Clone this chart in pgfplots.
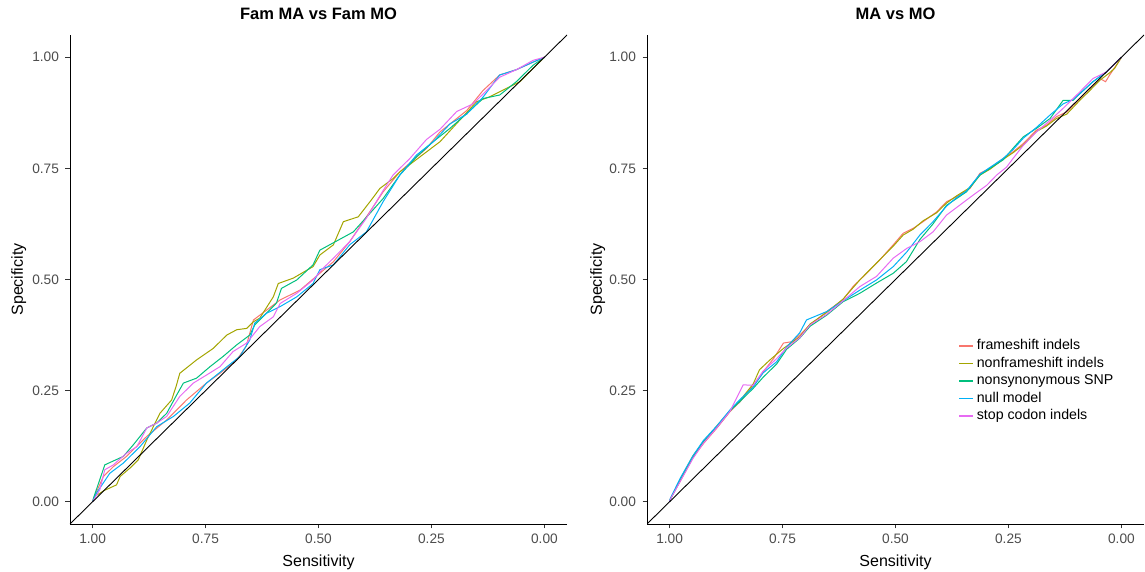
\documentclass[border=0pt]{standalone}
\usepackage{pgfplots}
\pgfplotsset{compat=1.18}
\usepackage{fontspec}
\setmainfont{Liberation Sans}
\definecolor{cFS}{HTML}{F8766D}
\definecolor{cNF}{HTML}{A3A500}
\definecolor{cNS}{HTML}{00BF7D}
\definecolor{cNM}{HTML}{00B0F6}
\definecolor{cSC}{HTML}{E76BF3}
\definecolor{tickgrey}{HTML}{4D4D4D}
\pgfplotsset{
  rocaxis/.style={
    scale only axis, width=497pt, height=489pt,
    x dir=reverse, xmin=-0.05, xmax=1.05, ymin=-0.05, ymax=1.05,
    axis x line*=bottom, axis y line*=left,
    axis line style={line width=0.9pt, black},
    tick align=outside, major tick length=4.5pt,
    tick style={line width=0.9pt, black!80},
    xtick={0,0.25,0.5,0.75,1}, xticklabels={0.00,0.25,0.50,0.75,1.00},
    ytick={0,0.25,0.5,0.75,1}, yticklabels={0.00,0.25,0.50,0.75,1.00},
    ticklabel style={font=\fontsize{13.7}{15}\selectfont, text=tickgrey},
    xticklabel style={yshift=-2pt},
    yticklabel style={xshift=-3pt},
    xlabel={Sensitivity}, ylabel={Specificity},
    label style={font=\fontsize{16}{18}\selectfont},
    xlabel style={at={(axis description cs:0.5,-0.0859)}, anchor=base},
    ylabel style={at={(axis description cs:-0.0946,0.5)}, anchor=base, rotate=0},
    title style={at={(axis description cs:0.5,1.0204)}, anchor=base, font=\bfseries\fontsize{16.5}{18}\selectfont},
    every axis plot/.append style={line width=1pt},
  }
}
\begin{document}
\begin{tikzpicture}
\useasboundingbox (0pt,0pt) rectangle (1145pt,572pt);
% left panel
\begin{axis}[rocaxis, at={(70pt,48pt)}, anchor=south west, title={Fam MA vs Fam MO}]
\addplot[cFS] coordinates {(1,0) (0.997,0.010) (0.976,0.057) (0.954,0.079) (0.925,0.102) (0.880,0.147) (0.836,0.184) (0.792,0.229) (0.748,0.267) (0.718,0.289) (0.681,0.319) (0.660,0.350) (0.644,0.409) (0.615,0.431) (0.585,0.454) (0.541,0.476) (0.497,0.514) (0.467,0.540) (0.431,0.585) (0.357,0.697) (0.320,0.742) (0.261,0.795) (0.231,0.832) (0.172,0.880) (0.136,0.925) (0.099,0.960) (0.062,0.972) (0.025,0.989) (0,1)};
\addplot[cNF] coordinates {(1,0) (0.995,0.012) (0.975,0.025) (0.947,0.038) (0.939,0.057) (0.917,0.076) (0.899,0.094) (0.880,0.139) (0.851,0.199) (0.825,0.229) (0.815,0.260) (0.807,0.289) (0.770,0.319) (0.733,0.345) (0.703,0.375) (0.681,0.387) (0.659,0.390) (0.644,0.405) (0.630,0.413) (0.600,0.461) (0.589,0.491) (0.556,0.503) (0.512,0.529) (0.497,0.555) (0.467,0.578) (0.445,0.630) (0.412,0.641) (0.383,0.679) (0.364,0.705) (0.335,0.727) (0.320,0.742) (0.300,0.757) (0.261,0.787) (0.231,0.810) (0.194,0.851) (0.150,0.900) (0.121,0.911) (0.084,0.930) (0.054,0.945) (0.025,0.975) (0,1)};
\addplot[cNS] coordinates {(1,0) (0.998,0.008) (0.973,0.083) (0.932,0.102) (0.910,0.128) (0.880,0.166) (0.858,0.177) (0.836,0.199) (0.814,0.240) (0.799,0.267) (0.770,0.278) (0.740,0.304) (0.711,0.327) (0.681,0.353) (0.652,0.375) (0.641,0.398) (0.626,0.413) (0.593,0.447) (0.582,0.480) (0.548,0.499) (0.512,0.533) (0.497,0.566) (0.423,0.607) (0.357,0.682) (0.320,0.735) (0.283,0.776) (0.246,0.810) (0.209,0.840) (0.172,0.873) (0.136,0.907) (0.099,0.915) (0.062,0.945) (0.025,0.982) (0,1)};
\addplot[cNM] coordinates {(1,0) (0.991,0.020) (0.962,0.064) (0.932,0.087) (0.895,0.124) (0.858,0.169) (0.821,0.192) (0.785,0.222) (0.748,0.267) (0.711,0.297) (0.674,0.327) (0.652,0.364) (0.641,0.402) (0.615,0.424) (0.585,0.439) (0.548,0.461) (0.512,0.491) (0.497,0.522) (0.467,0.533) (0.431,0.578) (0.394,0.607) (0.357,0.675) (0.320,0.735) (0.283,0.780) (0.246,0.810) (0.209,0.850) (0.172,0.872) (0.136,0.910) (0.099,0.960) (0.062,0.972) (0.025,0.989) (0,1)};
\addplot[cSC] coordinates {(1,0) (0.984,0.027) (0.973,0.072) (0.954,0.083) (0.925,0.109) (0.902,0.124) (0.880,0.166) (0.858,0.177) (0.836,0.192) (0.807,0.237) (0.777,0.267) (0.748,0.285) (0.718,0.304) (0.689,0.338) (0.659,0.357) (0.630,0.394) (0.600,0.416) (0.585,0.446) (0.548,0.469) (0.512,0.499) (0.490,0.525) (0.467,0.548) (0.431,0.585) (0.394,0.638) (0.357,0.700) (0.335,0.735) (0.298,0.772) (0.261,0.815) (0.231,0.838) (0.194,0.878) (0.158,0.895) (0.128,0.925) (0.099,0.955) (0.062,0.972) (0.025,0.993) (0,1)};
\addplot[black, line width=0.9pt, forget plot] coordinates {(1.05,-0.05) (-0.05,1.05)};
\end{axis}
% right panel
\begin{axis}[rocaxis, at={(647pt,48pt)}, anchor=south west, title={MA vs MO},
  ylabel style={at={(axis description cs:-0.0906,0.5)}},
  legend cell align=left,
  legend image code/.code={\draw[#1, line width=1.5pt] (0pt,0.5pt) -- (14pt,0.5pt);},
  legend style={draw=none, fill=none, inner sep=0pt, at={(axis description cs:0.626,0.378)}, anchor=north west,
    font=\fontsize{14.2}{16}\selectfont, row sep=3.5pt,
    nodes={inner sep=0pt, text height=10.5pt, text depth=3.5pt},
    /tikz/every odd column/.append style={column sep=3pt}}]
\addplot[cFS] coordinates {(1,0) (0.997,0.010) (0.977,0.045) (0.948,0.100) (0.925,0.131) (0.896,0.165) (0.866,0.203) (0.844,0.225) (0.815,0.262) (0.793,0.292) (0.770,0.322) (0.748,0.357) (0.730,0.360) (0.712,0.375) (0.689,0.398) (0.652,0.428) (0.616,0.455) (0.594,0.484) (0.564,0.514) (0.534,0.545) (0.505,0.578) (0.483,0.604) (0.461,0.615) (0.439,0.630) (0.409,0.652) (0.387,0.675) (0.365,0.686) (0.335,0.705) (0.313,0.739) (0.291,0.750) (0.262,0.772) (0.240,0.787) (0.217,0.806) (0.188,0.836) (0.166,0.847) (0.144,0.866) (0.121,0.877) (0.092,0.907) (0.070,0.930) (0.048,0.952) (0.035,0.945) (0.026,0.960) (0.004,0.993) (0,1)};
\addplot[cNF] coordinates {(1,0) (0.998,0.006) (0.977,0.049) (0.948,0.104) (0.925,0.134) (0.896,0.170) (0.866,0.205) (0.844,0.228) (0.815,0.265) (0.801,0.297) (0.778,0.319) (0.748,0.345) (0.712,0.371) (0.689,0.400) (0.652,0.426) (0.616,0.456) (0.579,0.499) (0.542,0.537) (0.505,0.575) (0.483,0.600) (0.461,0.613) (0.439,0.632) (0.409,0.650) (0.387,0.672) (0.365,0.688) (0.335,0.707) (0.313,0.735) (0.291,0.748) (0.262,0.770) (0.240,0.785) (0.217,0.803) (0.188,0.833) (0.166,0.845) (0.144,0.862) (0.121,0.872) (0.092,0.903) (0.070,0.925) (0.048,0.948) (0.026,0.965) (0.015,0.975) (0,1)};
\addplot[cNS] coordinates {(1,0) (0.999,0.004) (0.977,0.047) (0.948,0.100) (0.925,0.136) (0.896,0.167) (0.866,0.205) (0.844,0.226) (0.815,0.255) (0.793,0.280) (0.763,0.310) (0.741,0.343) (0.712,0.368) (0.689,0.395) (0.652,0.420) (0.616,0.450) (0.579,0.469) (0.542,0.492) (0.505,0.514) (0.476,0.540) (0.446,0.590) (0.417,0.625) (0.387,0.667) (0.365,0.682) (0.343,0.697) (0.313,0.735) (0.291,0.750) (0.262,0.769) (0.240,0.795) (0.217,0.821) (0.188,0.840) (0.158,0.862) (0.129,0.903) (0.107,0.903) (0.092,0.918) (0.063,0.945) (0.033,0.967) (0,1)};
\addplot[cNM] coordinates {(1,0) (0.999,0.006) (0.977,0.052) (0.948,0.104) (0.925,0.138) (0.896,0.170) (0.866,0.207) (0.844,0.230) (0.815,0.258) (0.793,0.290) (0.763,0.315) (0.741,0.348) (0.712,0.380) (0.697,0.409) (0.652,0.428) (0.616,0.452) (0.579,0.476) (0.542,0.499) (0.505,0.529) (0.475,0.562) (0.446,0.600) (0.417,0.630) (0.387,0.665) (0.365,0.684) (0.343,0.699) (0.313,0.737) (0.291,0.752) (0.262,0.772) (0.240,0.792) (0.217,0.818) (0.188,0.842) (0.158,0.870) (0.129,0.895) (0.107,0.905) (0.092,0.918) (0.063,0.945) (0.033,0.967) (0,1)};
\addplot[cSC] coordinates {(1,0) (0.999,0.004) (0.977,0.045) (0.948,0.098) (0.925,0.132) (0.896,0.166) (0.866,0.204) (0.837,0.263) (0.815,0.262) (0.793,0.294) (0.763,0.322) (0.741,0.346) (0.712,0.369) (0.689,0.398) (0.652,0.422) (0.616,0.452) (0.579,0.484) (0.542,0.507) (0.505,0.548) (0.475,0.570) (0.446,0.585) (0.417,0.607) (0.387,0.645) (0.358,0.667) (0.328,0.690) (0.298,0.712) (0.276,0.735) (0.254,0.753) (0.240,0.772) (0.217,0.802) (0.188,0.832) (0.158,0.858) (0.129,0.885) (0.092,0.922) (0.063,0.952) (0.033,0.967) (0,1)};
\addplot[black, line width=0.9pt, forget plot] coordinates {(1.05,-0.05) (-0.05,1.05)};
\legend{frameshift indels,nonframeshift indels,nonsynonymous SNP,null model,stop codon indels}
\end{axis}
\end{tikzpicture}
\end{document}
